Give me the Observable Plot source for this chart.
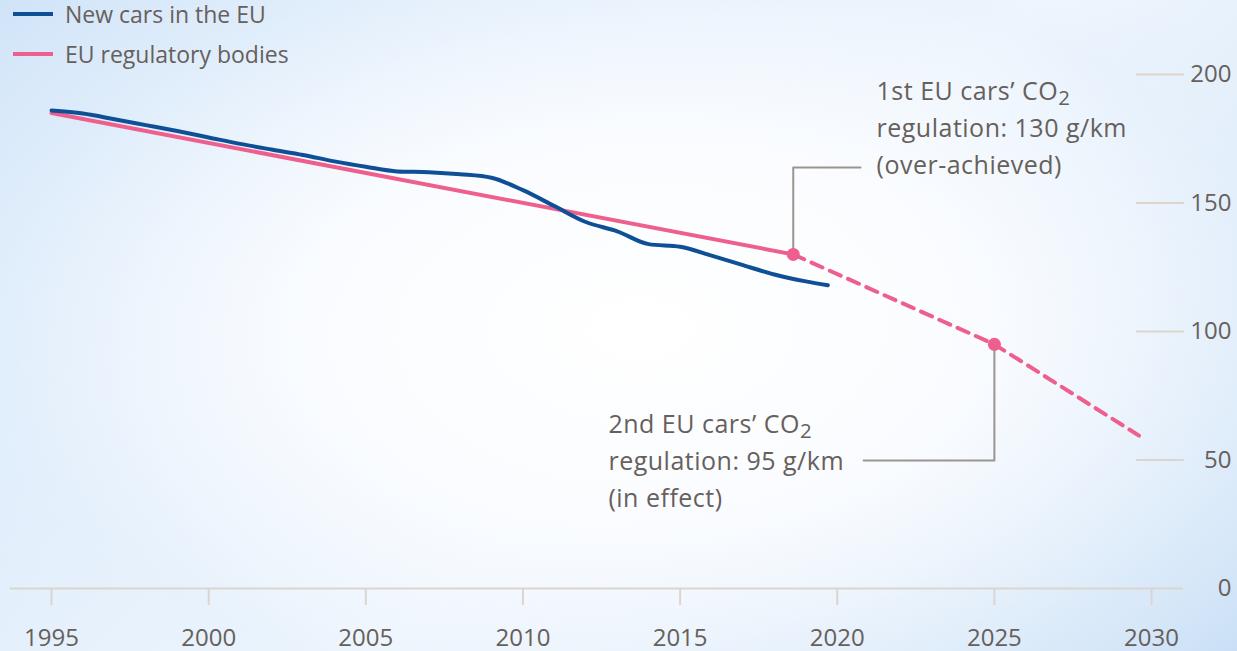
<!DOCTYPE html>
<html>
<head>
<meta charset="utf-8">
<script src="https://cdn.jsdelivr.net/npm/d3@7"></script>
<script src="https://cdn.jsdelivr.net/npm/@observablehq/plot@0.6"></script>
<style>
  html, body { margin: 0; padding: 0; }
  body {
    width: 1237px; height: 651px; overflow: hidden;
    font-family: "Open Sans", sans-serif;
    background:
      radial-gradient(ellipse 860px 500px at 640px 330px, rgba(255,255,255,1) 0%, rgba(250,252,255,0.95) 40%, rgba(230,241,252,0.55) 75%, rgba(210,228,247,0) 100%),
      linear-gradient(135deg, #cfe3f8 0%, #e6f1fc 38%, #f3f8fe 55%, #d8e8f8 82%, #c6ddf5 100%);
  }
  #legend { height: 66px; position: relative; }
  .item { position: absolute; left: 13px; display: flex; align-items: center; color: #66605c; font-size: 23px; }
  .sw { width: 40px; height: 4px; margin-right: 12px; }
</style>
</head>
<body>
<div id="legend"></div>
<div id="chart"></div>
<script>
// ---- data ----
const years = [1995,1996,1997,1998,1999,2000,2001,2002,2003,2004,2005,2006,2007,2008,2009,2010,2011,2012,2013,2014,2015,2016,2017,2018,2019,2019.7];
const newCars = [186,184.8,182.6,180.3,178,175.5,173,170.8,168.7,166.2,164.1,162.3,162,161.2,159.8,155,148.8,142.6,139,134,133,129.5,125.8,122.2,119.5,118];
const regYears = [1995, 2018.6];
const regValues = [185, 130];
const targetYears = [2018.6, 2025, 2029.6];
const targetValues = [130, 95, 59.5];
const milestoneYears = [2018.6, 2025];
const milestoneValues = [130, 95];
const xTicks = [1995,2000,2005,2010,2015,2020,2025,2030];
const yTicks = [0,50,100,150,200];
const seriesNames = ["New cars in the EU", "EU regulatory bodies"];
const noteTexts = [
  "1st EU cars’ CO₂\nregulation: 130 g/km\n(over-achieved)",
  "2nd EU cars’ CO₂\nregulation: 95 g/km\n(in effect)"
];

const BLUE = "#0f4f96", PINK = "#ef5f8d", TEXT = "#66605c", RULE = "#dcd5cd", LEAD = "#9a9591";

// legend
const legend = document.getElementById("legend");
[[seriesNames[0], BLUE, 14], [seriesNames[1], PINK, 54]].forEach(([name, c, y]) => {
  const d = document.createElement("div");
  d.className = "item";
  d.style.top = (y - 15) + "px";
  d.style.height = "30px";
  d.innerHTML = `<span class="sw" style="background:${c}"></span><span>${name}</span>`;
  legend.appendChild(d);
});

const cars = years.map((x, i) => ({x, y: newCars[i]}));
const reg = regYears.map((x, i) => ({x, y: regValues[i]}));
const target = targetYears.map((x, i) => ({x, y: targetValues[i]}));
const milestones = milestoneYears.map((x, i) => ({x, y: milestoneValues[i]}));

// annotation layout (leader elbow + text placement)
const notes = [
  {i: 0, elbowY: 163.8, endX: 2020.74, textX: 2021.25, textY: 180.3},
  {i: 1, elbowY: 49.8, endX: 2020.84, textX: 2012.72, textY: 50.8}
];
const leaders = notes.flatMap(n => [
  {id: n.i, x: milestones[n.i].x, y: milestones[n.i].y},
  {id: n.i, x: milestones[n.i].x, y: n.elbowY},
  {id: n.i, x: n.endX, y: n.elbowY}
]);
const labels = notes.map(n => ({x: n.textX, y: n.textY, text: noteTexts[n.i]}));

const chart = Plot.plot({
  width: 1237,
  height: 585,
  marginLeft: 10,
  marginRight: 54,
  marginTop: 8,
  marginBottom: 63,
  x: {domain: [1993.695, 2031.017]},
  y: {domain: [0, 200]},
  style: {background: "transparent", overflow: "visible", fontFamily: "'Open Sans', sans-serif", fontSize: "24px", color: TEXT},
  marks: [
    Plot.ruleY([0], {stroke: RULE, strokeWidth: 2}),
    Plot.axisX({ticks: xTicks, tickSize: 17, tickPadding: 23, tickFormat: d => String(d), stroke: RULE, strokeWidth: 2, strokeOpacity: 1, fill: TEXT, fontSize: 24, label: null}),
    Plot.axisY({anchor: "right", ticks: yTicks.filter(d => d > 0), tickSize: -48, tickFormat: () => "", stroke: RULE, strokeWidth: 2, strokeOpacity: 1, label: null}),
    Plot.axisY({anchor: "right", ticks: yTicks, tickSize: 0, tickPadding: 0, textAnchor: "end", dx: 48, fill: TEXT, fontSize: 24, label: null}),
    Plot.line(leaders, {x: "x", y: "y", z: "id", stroke: LEAD, strokeWidth: 2}),
    Plot.line(target, {x: "x", y: "y", stroke: PINK, strokeWidth: 4, strokeDasharray: "12,8"}),
    Plot.line(reg, {x: "x", y: "y", stroke: PINK, strokeWidth: 4}),
    Plot.line(cars, {x: "x", y: "y", stroke: BLUE, strokeWidth: 4, curve: "monotone-x"}),
    Plot.dot(milestones, {x: "x", y: "y", r: 6.5, fill: PINK, stroke: "none"}),
    Plot.text(labels, {x: "x", y: "y", text: "text", textAnchor: "start", lineAnchor: "middle", lineHeight: 1.48, fontSize: 25, fill: TEXT, className: "note"})
  ]
});
document.getElementById("chart").appendChild(chart);

// larger, lowered subscript like the original typography
chart.querySelectorAll("text tspan, text").forEach(el => {
  if (el.children.length === 0 && el.textContent.includes("₂")) {
    el.innerHTML = el.textContent.replace("₂", '<tspan baseline-shift="-22%" font-size="0.82em">2</tspan>');
  }
});
chart.querySelectorAll("text").forEach(t => {
  if (t.textContent.includes("regulation")) t.style.letterSpacing = "0.5px";
});
</script>
</body>
</html>
